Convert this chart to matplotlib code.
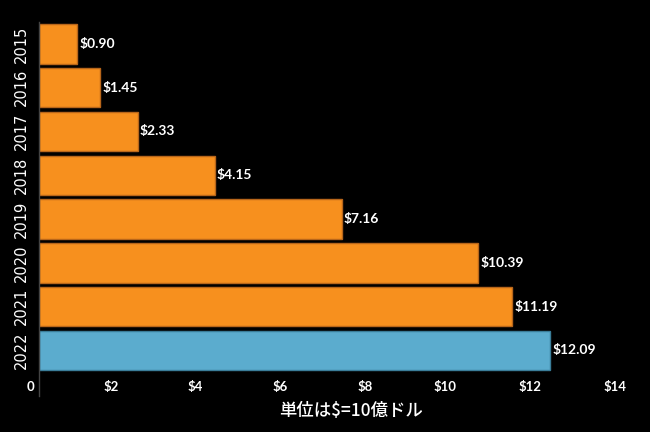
import matplotlib.pyplot as plt
import matplotlib.transforms as mtransforms

years = ['2015', '2016', '2017', '2018', '2019', '2020', '2021', '2022']
values = [0.90, 1.45, 2.33, 4.15, 7.16, 10.39, 11.19, 12.09]
value_labels = ['$0.90', '$1.45', '$2.33', '$4.15', '$7.16', '$10.39', '$11.19', '$12.09']
tick_vals = [0, 2, 4, 6, 8, 10, 12, 14]
tick_labels = ['0', '$2', '$4', '$6', '$8', '$10', '$12', '$14']

orange = '#F7901E'
blue = '#5BACCE'
colors = [orange] * 7 + [blue]
edges = ['#B8661A'] * 7 + ['#3A7D99']

fig = plt.figure(figsize=(6.5, 4.32), dpi=100)
fig.patch.set_facecolor('black')
ax = fig.add_axes([39 / 650, 36 / 432, (14 * 42.3) / 650, 374 / 432])
ax.set_facecolor('black')

pos = list(range(len(years)))
ax.barh(pos, values, height=0.9, color=colors, edgecolor=edges, linewidth=1)
ax.set_ylim(8.04, -0.5)
ax.set_xlim(0, 14)

for p, v, lab in zip(pos, values, value_labels):
    ax.text(v + 0.05, p, lab, va='center', ha='left', color='white',
            fontsize=10, family='Lato', fontweight='bold')

ax.set_yticks(pos)
ax.set_yticklabels(years, rotation=90, va='center', color='white', fontsize=10.5)
ax.tick_params(axis='y', length=0, pad=7)

ax.set_xticks(tick_vals)
ax.set_xticklabels(tick_labels, color='white', fontsize=9.5, family='Lato',
                   fontweight='bold', ha='right')
ax.tick_params(axis='x', length=0, pad=-11)
shift = mtransforms.ScaledTranslation(-5 / 100, 0, fig.dpi_scale_trans)
for t in ax.get_xticklabels():
    t.set_transform(t.get_transform() + shift)

for s in ['top', 'right', 'bottom']:
    ax.spines[s].set_visible(False)
ax.spines['left'].set_color('#444444')
ax.spines['left'].set_linewidth(1)

fig.text(351 / 650, 1 - 411 / 432, '単位は$=10億ドル', ha='center', va='center',
         color='white', fontsize=12.5, fontweight='medium',
         family=['Noto Sans CJK JP', 'DejaVu Sans'])

fig.savefig('out.png', dpi=100, facecolor='black')
